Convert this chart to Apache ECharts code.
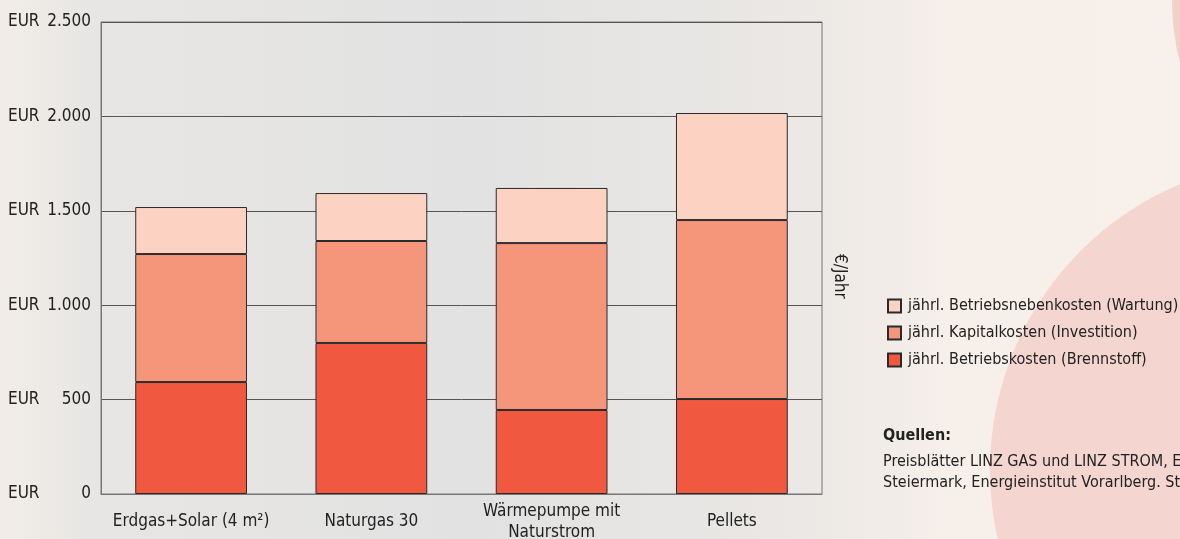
<!DOCTYPE html>
<html><head><meta charset="utf-8">
<script src="https://cdn.jsdelivr.net/npm/echarts@6/dist/echarts.min.js"></script>
<style>html,body{margin:0;padding:0;}#c{width:1180px;height:539px;}</style>
</head><body><div id="c"></div>
<script>
const categories = ['Erdgas+Solar (4 m²)', 'Naturgas 30', 'Wärmepumpe mit\nNaturstrom', 'Pellets'];
const brennstoff = [593, 800, 445, 503];
const kapital = [678, 540, 884, 948];
const wartung = [249, 254, 292, 567];
const yTicks = [0, 500, 1000, 1500, 2000, 2500];
const names = ['jährl. Betriebskosten (Brennstoff)', 'jährl. Kapitalkosten (Investition)', 'jährl. Betriebsnebenkosten (Wartung)'];
const colors = ['#F0583F', '#F5967B', '#FCD2C2'];
const FONT = '"Liberation Sans Narrow","DejaVu Sans Condensed",sans-serif';

const chart = echarts.init(document.getElementById('c'));
const fmt = v => {
  const s = v >= 1000 ? Math.floor(v/1000) + '.' + String(v%1000).padStart(3,'0') : String(v);
  return '{a|EUR}{b|' + s + '}';
};
const mk = (i, data) => ({
  name: names[i], type: 'bar', stack: 'total', data: data, barWidth: '62%',
  itemStyle: {color: colors[i], borderColor: '#2a2a2a', borderWidth: 1},
  emphasis: {disabled: true}
});
chart.setOption({
  backgroundColor: {type: 'linear', x: 0, y: 0, x2: 1, y2: 0, colorStops: [
    {offset: 0, color: '#f2ede8'}, {offset: 0.08, color: '#e7e6e4'}, {offset: 0.4, color: '#e2e2e2'},
    {offset: 0.68, color: '#ebe8e5'}, {offset: 0.8, color: '#f6efea'}, {offset: 1, color: '#f8f0ea'}]},
  animation: false,
  graphic: [
    {type: 'circle', shape: {cx: 1300, cy: 470, r: 310}, style: {fill: '#f4d5cf'}, z: -10, silent: true},
    {type: 'circle', shape: {cx: 1420, cy: 0, r: 248}, style: {fill: '#f4d0cb'}, z: -10, silent: true},
    {type: 'text', left: 831, top: 254, rotation: -Math.PI/2, style: {text: '€/Jahr', font: '17px ' + FONT, fill: '#222'}},
    {type: 'text', left: 883, top: 428, style: {text: 'Quellen:', font: 'bold 16px ' + FONT, fill: '#222'}},
    {type: 'text', left: 883, top: 451, style: {text: 'Preisblätter LINZ GAS und LINZ STROM, Energieagentur\nSteiermark, Energieinstitut Vorarlberg. St', font: '16px ' + FONT, fill: '#222', lineHeight: 21}}
  ],
  legend: {
    orient: 'vertical', left: 882, top: 293, itemWidth: 13, itemHeight: 13, itemGap: 11,
    icon: 'rect', data: [names[2], names[1], names[0]],
    textStyle: {fontFamily: FONT, fontSize: 16, color: '#222', padding: [0, 0, 0, 2]}
  },
  grid: {left: 101, top: 22, right: 358, bottom: 45, outerBoundsMode: 'none', containLabel: false,
    show: true, borderColor: '#777', borderWidth: 1, backgroundColor: 'transparent'},
  xAxis: {
    type: 'category', data: categories,
    axisLine: {lineStyle: {color: '#777'}}, axisTick: {show: false},
    axisLabel: {fontFamily: FONT, fontSize: 17, color: '#222', margin: 28, lineHeight: 21, interval: 0, verticalAlign: 'middle'}
  },
  yAxis: {
    type: 'value', min: 0, max: 2500, interval: 500,
    axisLine: {show: true, lineStyle: {color: '#777'}}, axisTick: {show: false},
    splitLine: {lineStyle: {color: '#555', width: 1}},
    axisLabel: {formatter: fmt, margin: 10, rich: {
      a: {fontFamily: FONT, fontSize: 17, color: '#222', width: 40, align: 'left'},
      b: {fontFamily: FONT, fontSize: 17, color: '#222', width: 43, align: 'right'}
    }}
  },
  series: [mk(0, brennstoff), mk(1, kapital), mk(2, wartung)]
});
</script></body></html>
